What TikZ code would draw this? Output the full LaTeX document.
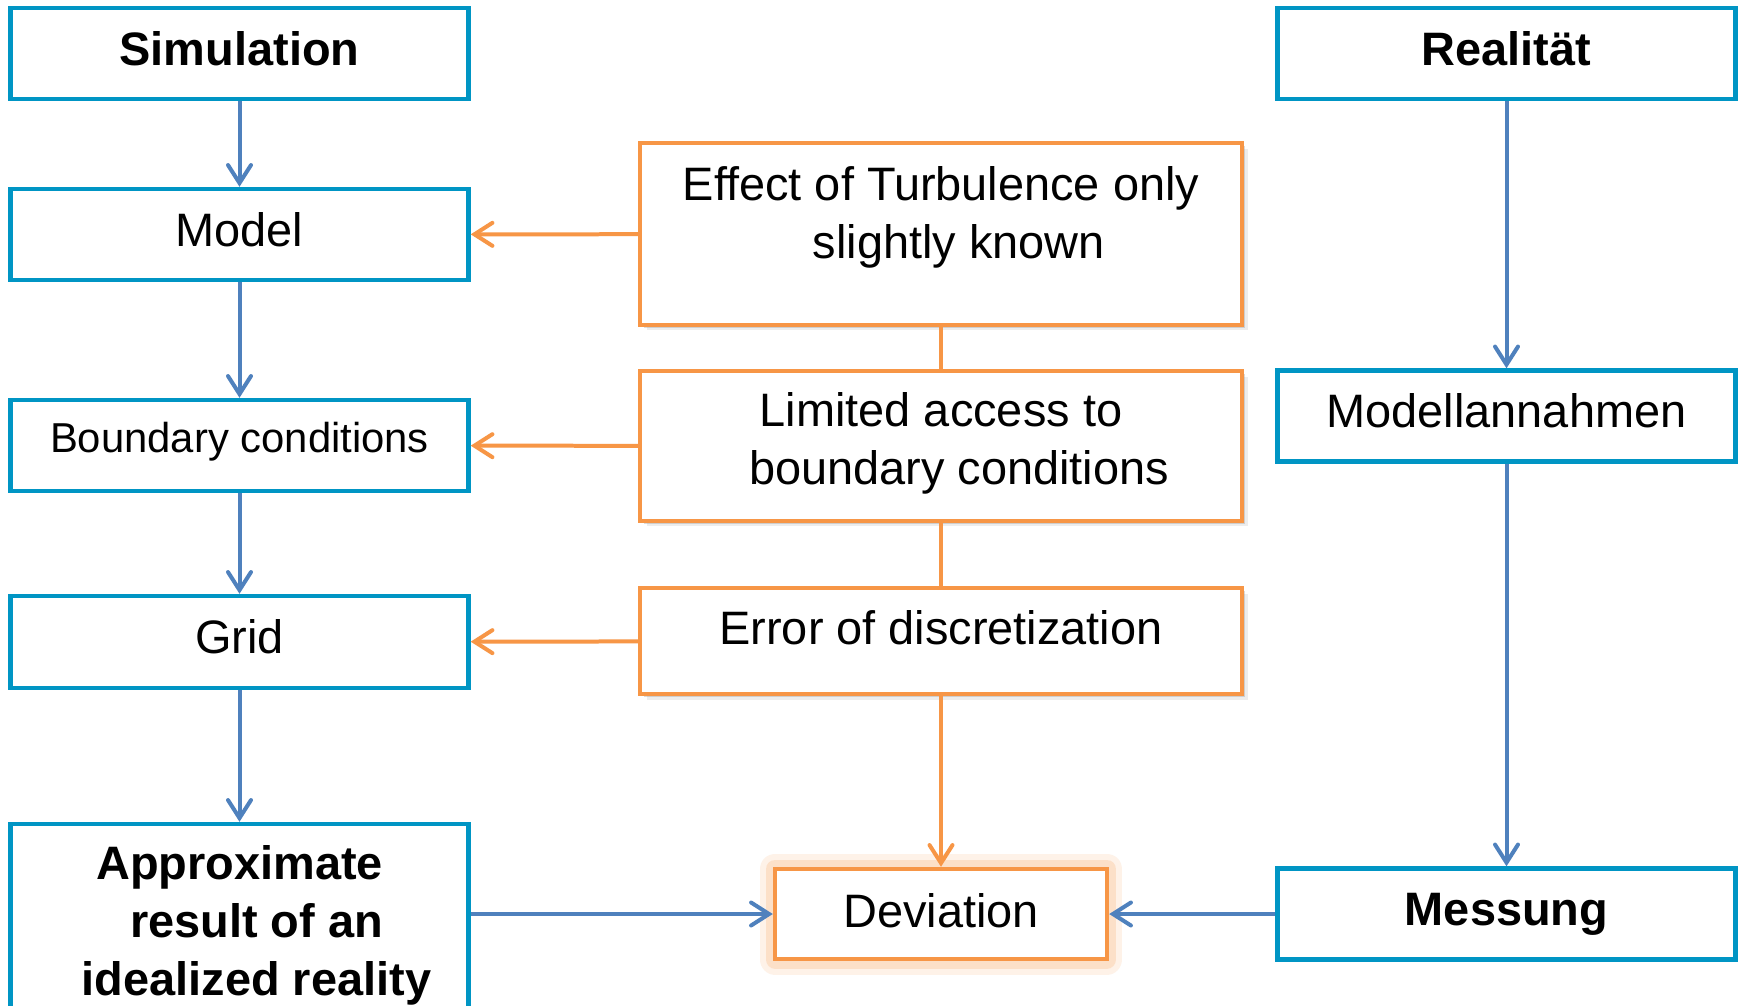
\documentclass[tikz,border=0pt]{standalone}
\usepackage{fontspec}
\setmainfont{Liberation Sans}
\usetikzlibrary{arrows.meta,shadows}
\definecolor{boxblue}{HTML}{0095C4}
\definecolor{flowblue}{HTML}{4F81BD}
\definecolor{causeorange}{HTML}{F79646}
\tikzset{
  stagebox/.style={draw=boxblue, line width=0.09cm, fill=white, inner sep=0pt,
    minimum width=9.16cm, minimum height=1.82cm, align=center,
    text height=0.68cm, text depth=0.22cm,
    font=\fontsize{26.7}{32.8}\selectfont},
  headbox/.style={stagebox, font=\fontsize{26.7}{32.8}\selectfont\bfseries},
  causebox/.style={draw=causeorange, line width=0.09cm, fill=white, inner sep=0pt,
    minimum width=12.04cm, align=center,
    font=\fontsize{26.7}{32.8}\selectfont,
    drop shadow={shadow xshift=0.13cm, shadow yshift=-0.11cm, opacity=0.14},
    drop shadow={shadow xshift=0.07cm, shadow yshift=-0.06cm, opacity=0.28}},
  devbox/.style={draw=causeorange, line width=0.09cm, fill=white, inner sep=0pt,
    minimum width=6.64cm, minimum height=1.8cm, text height=0.68cm, text depth=0.14cm,
    font=\fontsize{26.7}{32.8}\selectfont,
    preaction={draw=causeorange!40, line width=0.62cm, opacity=0.3, line join=round},
    preaction={draw=causeorange!55, line width=0.38cm, opacity=0.4, line join=round}},
  flow/.style={flowblue, line width=0.08cm,
    -{Straight Barb[length=0.36cm,width=0.46cm,line cap=round]}},
  causeflow/.style={flow, causeorange},
  causelink/.style={causeorange, line width=0.08cm},
}
\begin{document}
\begin{tikzpicture}[x=0.02cm, y=-0.02cm]
  \clip (0,0) rectangle (1741,1005);
  \fill[white] (0,0) rectangle (1741,1005);
  \node[headbox] (sim) at (239.5,53.5) {Simulation};
  \node[stagebox] (model) at (239.5,234.5) {Model};
  \node[stagebox, font=\fontsize{23.8}{28.6}\selectfont, text height=0.6cm, text depth=0.32cm] (bound) at (239.5,445.5) {Boundary conditions};
  \node[stagebox, minimum height=1.84cm] (grid) at (239.5,642) {Grid};
  \node[headbox, minimum height=3.92cm, text height=3.4cm, text depth=0.48cm] (approx) at (239.5,922)
    {Approximate\\\hspace*{0.68cm}result of an\\\hspace*{0.68cm}idealized reality};
  \node[causebox, minimum height=3.64cm, text height=1.8cm, text depth=0.84cm] (effect) at (941,234)
    {Effect of Turbulence only\\\hspace*{0.72cm}slightly known};
  \node[causebox, minimum height=3cm, text height=2cm, text depth=0.48cm] (limited) at (941,446)
    {Limited access to\\\hspace*{0.72cm}boundary conditions};
  \node[causebox, minimum height=2.12cm, text height=0.68cm, text depth=0.56cm] (error) at (941,641) {Error of discretization};
  \node[devbox] (dev) at (941,914) {Deviation};
  \node[headbox] (real) at (1506.5,53.5) {Realität};
  \node[stagebox] (modell) at (1506.5,416) {Modellannahmen};
  \node[headbox] (mess) at (1506.5,914) {Messung};
  \draw[flow] (sim) -- (model);
  \draw[flow] (model) -- (bound);
  \draw[flow] (bound) -- (grid);
  \draw[flow] (grid) -- (approx);
  \draw[flow] (real) -- (modell);
  \draw[flow] (modell) -- (mess);
  \draw[flow] (approx.east |- dev) -- (dev);
  \draw[flow] (mess) -- (dev);
  \draw[causeflow] (effect) -- (model);
  \draw[causeflow] (limited) -- (bound);
  \draw[causeflow] (error) -- (grid);
  \draw[causelink] (effect) -- (limited);
  \draw[causelink] (limited) -- (error);
  \draw[causeflow] (error) -- (dev);
\end{tikzpicture}
\end{document}
